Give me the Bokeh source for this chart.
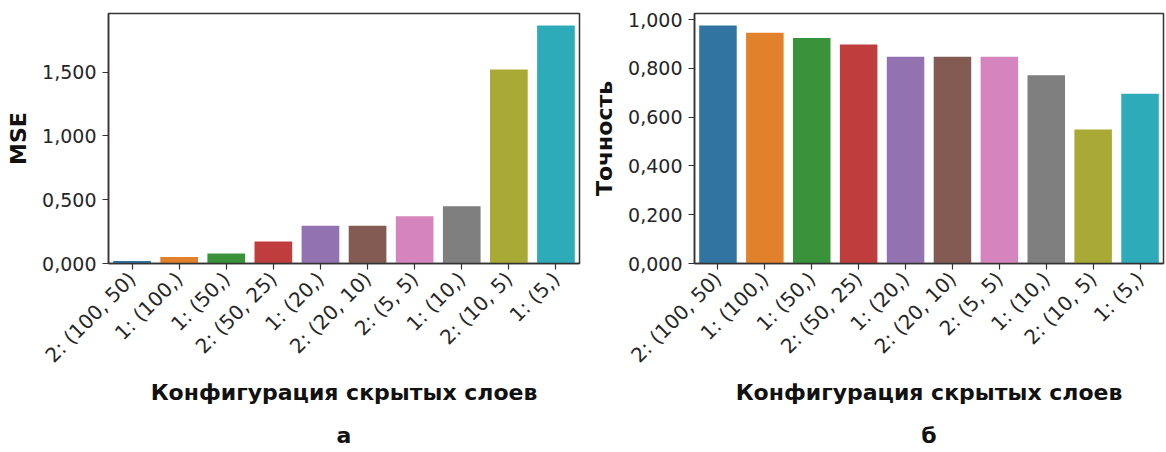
import math
from bokeh.plotting import figure
from bokeh.layouts import row
from bokeh.models import FixedTicker, CustomJSTickFormatter, Title, ColumnDataSource, Range1d
from bokeh.embed import file_html
from bokeh.resources import INLINE

configs = ["2: (100, 50)", "1: (100,)", "1: (50,)", "2: (50, 25)", "1: (20,)",
           "2: (20, 10)", "2: (5, 5)", "1: (10,)", "2: (10, 5)", "1: (5,)"]
mse = [0.019, 0.050, 0.078, 0.172, 0.296, 0.296, 0.370, 0.448, 1.521, 1.866]
accuracy = [0.976, 0.946, 0.924, 0.898, 0.848, 0.848, 0.848, 0.772, 0.549, 0.696]
colors = ["#3274a1", "#e1812c", "#3a923a", "#c03d3e", "#9372b2",
          "#845b53", "#d684bd", "#7f7f7f", "#a9aa35", "#2eabb8"]
mse_ticks = [0.0, 0.5, 1.0, 1.5]
acc_ticks = [0.0, 0.2, 0.4, 0.6, 0.8, 1.0]
xlabel = "Конфигурация скрытых слоев"
ylabels = ["MSE", "Точность"]
captions = ["а", "б"]

FONT = "DejaVu Sans"
fmt = CustomJSTickFormatter(code="return tick.toFixed(3).replace('.', ',');")


def make(values, ticks, ylab, cap, width, mb_left, mb_right):
    src = ColumnDataSource(dict(x=configs, top=values, color=colors))
    p = figure(x_range=configs, y_range=Range1d(0, max(values) * 1.05),
               width=width, height=452, output_backend="svg", toolbar_location=None,
               min_border_left=mb_left, min_border_right=mb_right,
               min_border_top=13, min_border_bottom=0)
    p.vbar(x="x", top="top", width=0.8, color="color", source=src, line_color=None)
    p.xgrid.visible = False
    p.ygrid.visible = False
    p.x_range.range_padding = 0
    p.outline_line_color = "#333333"
    p.outline_line_width = 1.5
    p.outline_line_alpha = 1
    for ax in (p.xaxis[0], p.yaxis[0]):
        ax.axis_line_color = "#333333"
        ax.axis_line_width = 1.5
        ax.major_tick_line_color = "#333333"
        ax.major_tick_line_width = 1.2
        ax.major_tick_out = 6
        ax.major_tick_in = 0
        ax.minor_tick_line_color = None
        ax.major_label_text_font = FONT
        ax.major_label_text_color = "#262626"
        ax.axis_label_text_font = FONT
        ax.axis_label_text_font_size = "22px"
        ax.axis_label_text_font_style = "bold"
        ax.axis_label_text_color = "#111111"
        ax.major_label_standoff = 6
    p.yaxis.major_label_text_font_size = "19px"
    p.xaxis.major_label_text_font_size = "20px"
    p.yaxis.ticker = FixedTicker(ticks=ticks)
    p.yaxis.formatter = fmt
    p.yaxis.axis_label = ylab
    p.yaxis.axis_label_standoff = 8
    p.xaxis.axis_label = xlabel
    p.xaxis.major_label_orientation = math.pi / 4
    p.xaxis.axis_label_standoff = 1
    spacer = Title(text=" ", text_font_size="5px", standoff=0)
    p.add_layout(spacer, "below")
    t = Title(text=cap, align="center", text_font=FONT, text_font_size="22px",
              text_font_style="bold", text_color="#111111", standoff=10)
    p.add_layout(t, "below")
    return p


p1 = make(mse, mse_ticks, ylabels[0], captions[0], 588, 108, 9)
p2 = make(accuracy, acc_ticks, ylabels[1], captions[1], 578, 106, 3)
layout = row(p1, p2, spacing=0)

open("out.html", "w").write(file_html(layout, INLINE))
